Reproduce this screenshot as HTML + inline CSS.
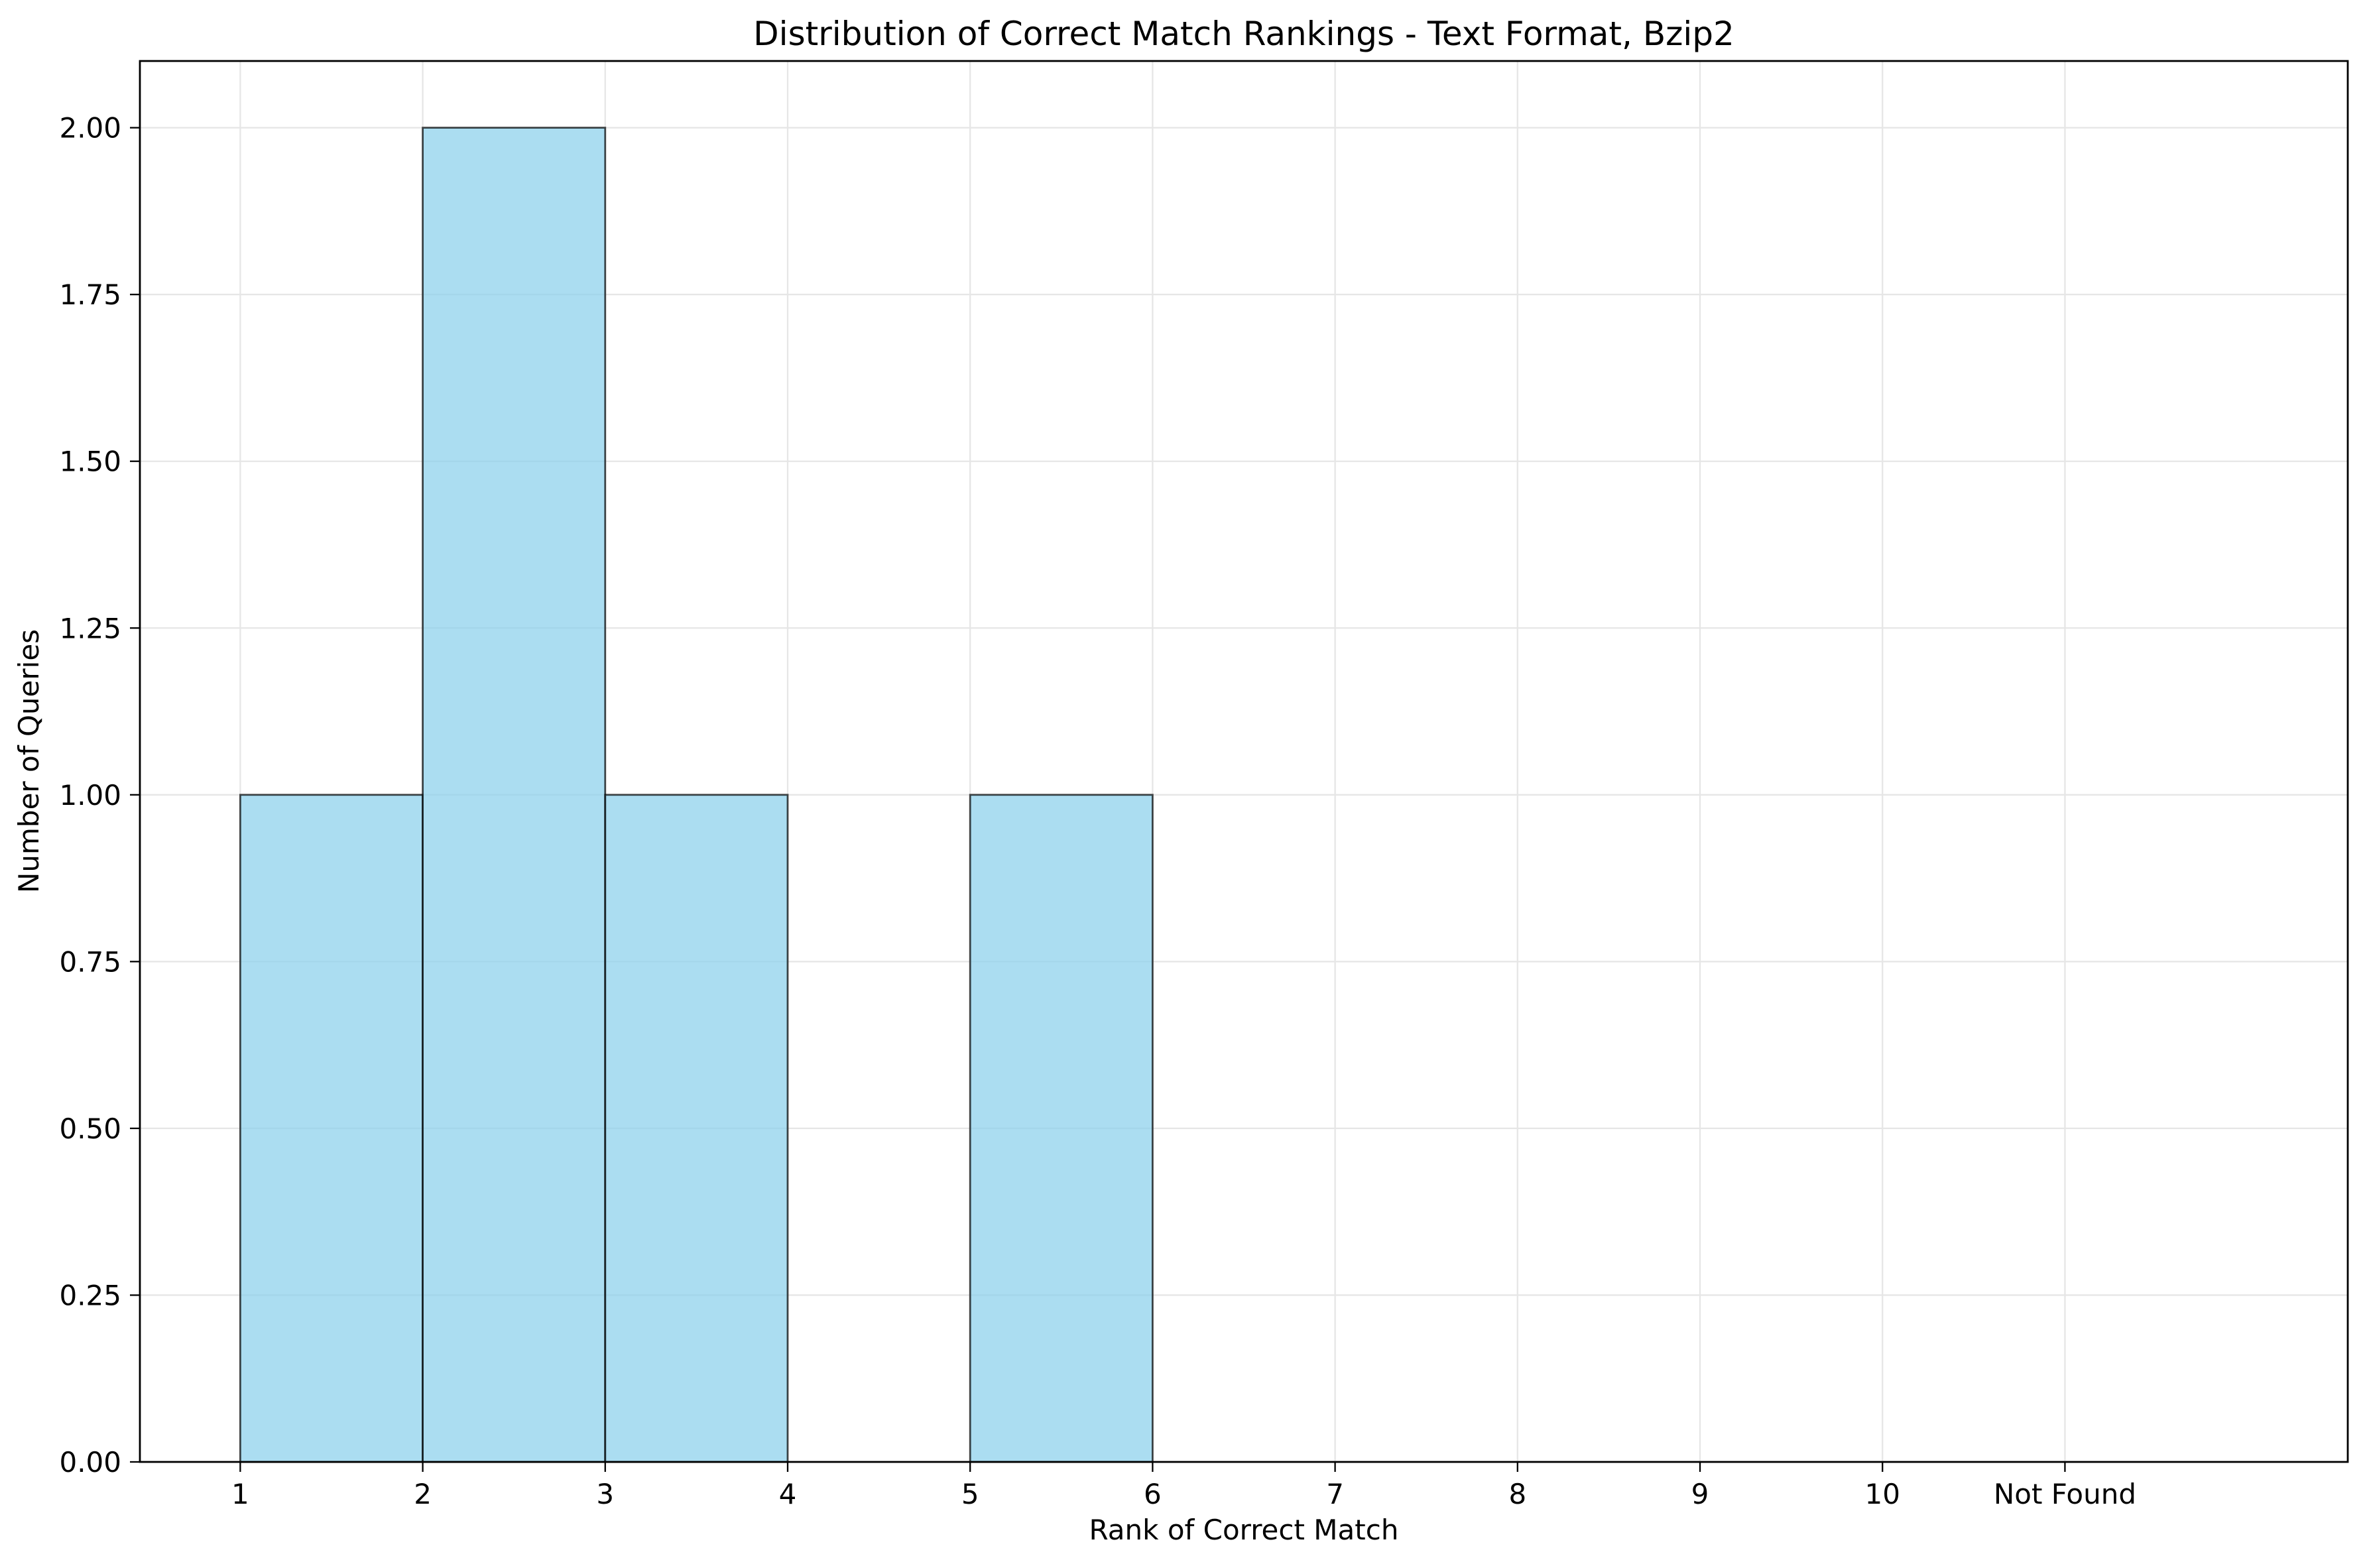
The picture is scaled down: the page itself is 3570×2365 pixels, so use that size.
<!DOCTYPE html>
<html><head><meta charset="utf-8"><style>
html,body{margin:0;padding:0;background:#fff;}
svg{display:block;font-family:"DejaVu Sans","Liberation Sans",sans-serif;}
</style></head><body>
<svg id="chart" width="3570" height="2365" viewBox="0 0 3570 2365" xmlns="http://www.w3.org/2000/svg">
<rect width="3570" height="2365" fill="#fff"/>
<g id="grid"></g>
<g id="bars"></g>
<g id="axes"></g>
<text x="1876" y="68" font-size="50" text-anchor="middle">Distribution of Correct Match Rankings - Text Format, Bzip2</text>
<text x="1876" y="2322" font-size="42" text-anchor="middle">Rank of Correct Match</text>
<text x="58" y="1148" font-size="42" text-anchor="middle" transform="rotate(-90 58 1148)">Number of Queries</text>
</svg>
<script>
const binEdges = [1,2,3,4,5,6,7,8,9,10,11,12];
const counts = [1,2,1,0,1,0,0,0,0,0,0];
const xTickVals = [1,2,3,4,5,6,7,8,9,10,11];
const xTickLabels = ["1","2","3","4","5","6","7","8","9","10","Not Found"];
const yTickVals = [0,0.25,0.5,0.75,1.0,1.25,1.5,1.75,2.0];

const L=211,R=3541,T=92,B=2205;
const xMin=0.45,xMax=12.55,yMin=0,yMax=2.1;
const xs=v=>L+(v-xMin)/(xMax-xMin)*(R-L);
const ys=v=>B-(v-yMin)/(yMax-yMin)*(B-T);
const NS="http://www.w3.org/2000/svg";
function mk(tag,attrs,parent){const e=document.createElementNS(NS,tag);for(const k in attrs)e.setAttribute(k,attrs[k]);parent.appendChild(e);return e;}
const grid=document.getElementById('grid'),bars=document.getElementById('bars'),axes=document.getElementById('axes');

xTickVals.forEach((v,i)=>{
  const g=mk('line',{x1:xs(v),x2:xs(v),y1:T,y2:B,stroke:'#e6e6e6','stroke-width':2.3},grid);
  
  
});
yTickVals.forEach(v=>{
  const g=mk('line',{x1:L,x2:R,y1:ys(v),y2:ys(v),stroke:'#e6e6e6','stroke-width':2.3},grid);
  
  
});
counts.forEach((c,i)=>{
  const x0=xs(binEdges[i]),x1=xs(binEdges[i+1]);
  const r=mk('rect',{x:x0,y:ys(c),width:x1-x0,height:ys(0)-ys(c),fill:'rgba(135,206,235,0.7)',stroke:'rgba(0,0,0,0.7)','stroke-width':2.8},bars);
  
  
});
const frame=mk('rect',{x:L,y:T,width:R-L,height:B-T,fill:'none',stroke:'#000','stroke-width':2.8},axes);


xTickVals.forEach((v,i)=>{
  const t=mk('line',{x1:xs(v),x2:xs(v),y1:B,y2:B+15,stroke:'#000','stroke-width':2.3},axes);
  
  
  const l=mk('text',{x:xs(v),y:2268,'font-size':42,'text-anchor':'middle'},axes);
  l.textContent=xTickLabels[i];
  
  
});
yTickVals.forEach(v=>{
  const t=mk('line',{x1:L-15,x2:L,y1:ys(v),y2:ys(v),stroke:'#000','stroke-width':2.3},axes);
  
  
  const l=mk('text',{x:183,y:ys(v)+15,'font-size':42,'text-anchor':'end'},axes);
  l.textContent=v.toFixed(2);
  
  
});
</script>
</body></html>
